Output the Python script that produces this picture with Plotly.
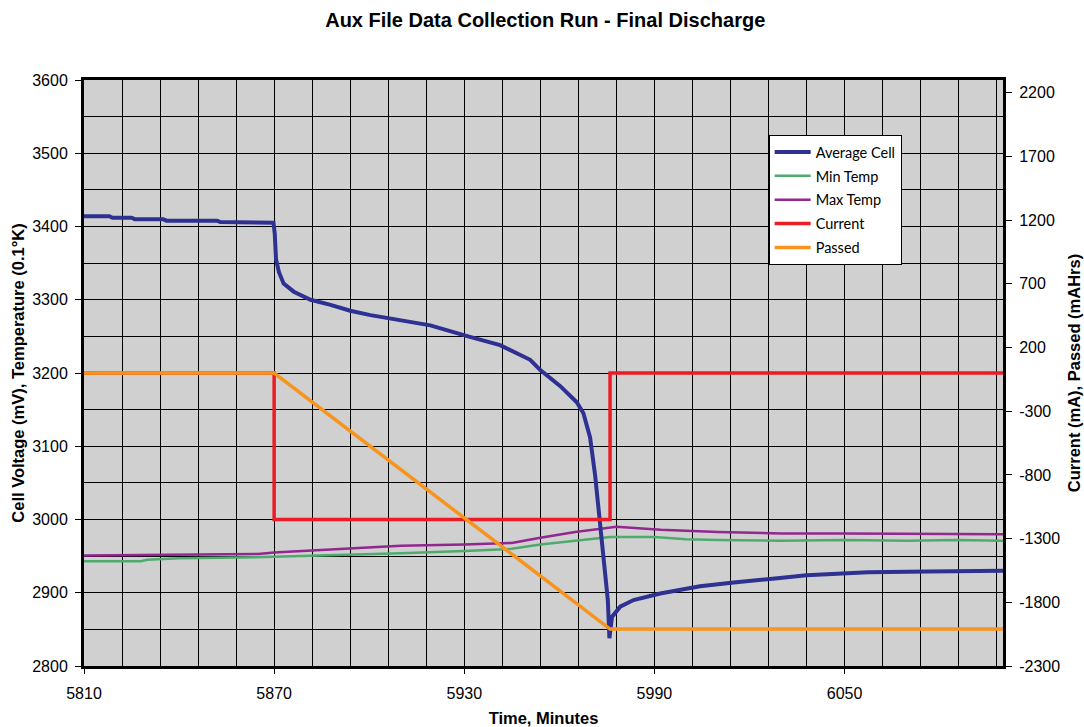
import plotly.graph_objects as go

# ---- data ----
avg_t = [5810, 5818, 5819, 5825, 5826, 5835, 5836, 5852, 5853, 5869.8, 5870.2, 5870.6, 5871.5, 5873, 5876.2,
         5881.5, 5887.8, 5894, 5900.4, 5910, 5919.3, 5931.2, 5941.3, 5950.8, 5954, 5960.3, 5965.5,
         5967.6, 5969.7, 5971.3, 5972.3, 5973.4, 5974.4, 5975.3, 5975.8, 5976.6, 5979.2, 5983.4,
         5991.8, 6004.4, 6015, 6023.3, 6029.6, 6038, 6046.9, 6057.4, 6076.3, 6100]
avg_v = [3414, 3414, 3412, 3412, 3410, 3410, 3408, 3408, 3406, 3405, 3390, 3355, 3338, 3322, 3311,
         3300, 3293, 3285, 3279, 3272, 3265, 3250, 3238, 3218, 3204, 3182, 3160,
         3145, 3112, 3060, 3017, 2982, 2935, 2890, 2838, 2867, 2881, 2890,
         2899, 2909, 2914, 2917, 2920, 2924, 2926, 2928, 2929, 2930]

min_t = [5810, 5828, 5830, 5836, 5840, 5870, 5890, 5910, 5930, 5945, 5954, 5965, 5976, 5990,
         6000, 6010, 6030, 6050, 6070, 6085, 6100]
min_v = [2943, 2943, 2945, 2946, 2947, 2949, 2951, 2954, 2957, 2960, 2966, 2971, 2976, 2976,
         2973, 2972, 2971, 2972, 2971, 2972, 2971]

max_t = [5810, 5830, 5850, 5865, 5870, 5890, 5910, 5930, 5945, 5954, 5965, 5978, 5992,
         6010, 6030, 6050, 6070, 6085, 6100]
max_v = [2951, 2952, 2952, 2953, 2955, 2959, 2964, 2966, 2968, 2975, 2983, 2990, 2986,
         2983, 2981, 2981, 2981, 2980, 2980]

cur_t = [5810, 5870, 5870, 5976, 5976, 6100]
cur_v = [0, 0, -1150, -1150, 0, 0]

pas_t = [5810, 5870, 5976, 6100]
pas_v = [0, 0, -2010, -2010]

x_ticks = [5810, 5870, 5930, 5990, 6050]
y2_ticks = [-2300, -1800, -1300, -800, -300, 200, 700, 1200, 1700, 2200]

BLUE = "#2E3192"
GREEN = "#4FAA6E"
PURPLE = "#92278F"
RED = "#ED1C24"
ORANGE = "#F7941D"

fig = go.Figure()
fig.add_trace(go.Scatter(x=min_t, y=min_v, mode="lines", name="Min Temp", legendgroup="b",
                         line=dict(color=GREEN, width=2.5), legendrank=2))
fig.add_trace(go.Scatter(x=max_t, y=max_v, mode="lines", name="Max Temp", legendgroup="c",
                         line=dict(color=PURPLE, width=2.5), legendrank=3))
fig.add_trace(go.Scatter(x=cur_t, y=cur_v, mode="lines", name="Current", yaxis="y2", legendgroup="d",
                         line=dict(color=RED, width=3.5), legendrank=4))
fig.add_trace(go.Scatter(x=pas_t, y=pas_v, mode="lines", name="Passed", yaxis="y2", legendgroup="e",
                         line=dict(color=ORANGE, width=3.5), legendrank=5))
fig.add_trace(go.Scatter(x=avg_t, y=avg_v, mode="lines", name="Average Cell", legendgroup="a",
                         line=dict(color=BLUE, width=4), legendrank=1))

FONT = "Liberation Sans, Arial, sans-serif"
tick_font = dict(family=FONT, size=16, color="#000")
title_font = dict(family=FONT, size=16.5, color="#000")

fig.update_layout(
    width=1084, height=727,
    margin=dict(l=84, r=81, t=80, b=61),
    paper_bgcolor="white",
    plot_bgcolor="#D0D0D0",
    title=dict(text="<b>Aux File Data Collection Run - Final Discharge</b>",
               x=0.503, xanchor="center", y=0.972, yanchor="middle",
               font=dict(family=FONT, size=20, color="#000")),
    xaxis=dict(range=[5810, 6100], tickvals=x_ticks, ticks="outside", ticklen=5, tickcolor="#000",
               ticklabelstandoff=6, automargin=False,
               showgrid=True, gridcolor="#000", gridwidth=1,
               minor=dict(dtick=12, tick0=5810, showgrid=True, gridcolor="#000", gridwidth=1),
               showline=True, linecolor="#000", linewidth=3, mirror=True, zeroline=False,
               tickfont=tick_font,
               title=dict(text="<b>Time, Minutes</b>", font=title_font, standoff=13)),
    yaxis=dict(range=[2800, 3600], dtick=100, tick0=2800, ticks="outside", ticklen=6, tickcolor="#000",
               ticklabelstandoff=4, automargin=False,
               showgrid=True, gridcolor="#000", gridwidth=1,
               minor=dict(dtick=50, tick0=2800, showgrid=True, gridcolor="#000", gridwidth=1),
               showline=True, linecolor="#000", linewidth=3, mirror=True, zeroline=False,
               tickfont=tick_font,
               title=dict(text="<b>Cell Voltage (mV), Temperature (0.1°K)</b>", font=title_font, standoff=4)),
    yaxis2=dict(range=[-2300, 2300], tickvals=y2_ticks, ticktext=[str(v) for v in y2_ticks],
                overlaying="y", side="right",
                ticks="outside", ticklen=6, tickcolor="#000", showgrid=False, zeroline=False,
                ticklabelstandoff=4, automargin=False,
                showline=True, linecolor="#000", linewidth=3,
                tickfont=tick_font,
                title=dict(text="<b>Current (mA), Passed (mAHrs)</b>", font=title_font, standoff=10)),
    legend=dict(x=0.745, y=0.906, xanchor="left", yanchor="top",
                bgcolor="white", bordercolor="#000", borderwidth=1,
                font=dict(family="Lato, Open Sans, sans-serif", size=14.5, color="#000"),
                tracegroupgap=2, itemwidth=36),
    showlegend=True,
)

fig.write_html("out.html", config={"displayModeBar": False},
               post_script="document.body.style.margin='0';document.body.style.overflow='hidden';")
